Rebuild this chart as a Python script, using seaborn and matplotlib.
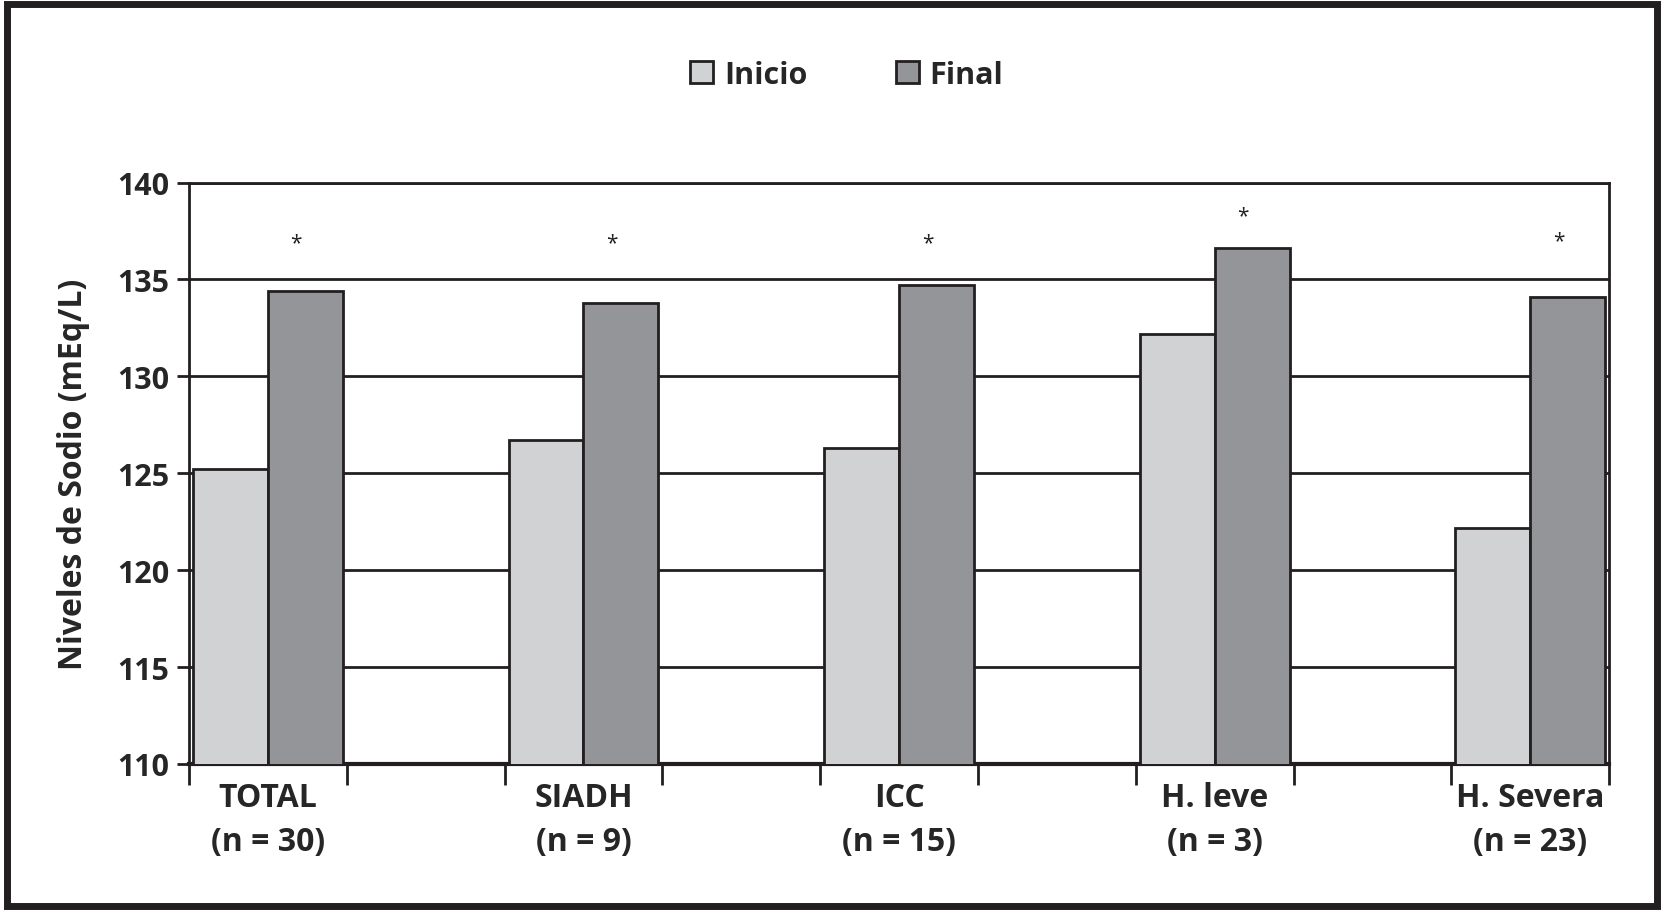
import matplotlib
matplotlib.use("Agg")
from matplotlib import pyplot as plt
from matplotlib.patches import Rectangle
import seaborn as sns
import pandas as pd

groups = ["TOTAL", "SIADH", "ICC", "H. leve", "H. Severa"]
n_labels = ["(n = 30)", "(n = 9)", "(n = 15)", "(n = 3)", "(n = 23)"]
inicio = [125.2, 126.7, 126.3, 132.2, 122.2]
final = [134.4, 133.8, 134.7, 136.6, 134.1]
star_y = [136.9, 136.9, 136.9, 138.3, 137.0]

df = pd.DataFrame({
    "grupo": groups * 2,
    "momento": ["Inicio"] * len(groups) + ["Final"] * len(groups),
    "sodio": inicio + final,
})

sns.set_style("white")
plt.rcParams["font.family"] = ["Open Sans", "DejaVu Sans"]
ink = "#231f20"

fig = plt.figure(figsize=(16.64, 9.12), dpi=100)
ax = fig.add_axes([0.1136, 0.1612, 0.8534, 0.6375])

sns.barplot(
    data=df, x="grupo", y="sodio", hue="momento", order=groups,
    palette={"Inicio": "#d1d2d4", "Final": "#939598"},
    width=0.475, gap=0, edgecolor=ink, linewidth=2,
    saturation=1, errorbar=None, zorder=3, ax=ax,
)

# asteriscos de significación sobre la barra "Final"
for i, y in enumerate(star_y):
    ax.text(i + 0.09, y, "*", ha="center", va="center", fontsize=15, color=ink)

ax.set_ylim(110, 140)
ax.set_xlim(-0.25, len(groups) - 0.75)
ax.set_yticks([110, 115, 120, 125, 130, 135, 140])
ax.yaxis.grid(True, color=ink, linewidth=2)
ax.set_axisbelow(True)
ax.tick_params(axis="y", left=True, length=9, width=2, color=ink, labelsize=22, pad=5)
for lab in ax.get_yticklabels():
    lab.set_fontweight("bold")

ax.set_xticks(range(len(groups)))
ax.set_xticklabels([f"{g}\n{n}" for g, n in zip(groups, n_labels)],
                   fontsize=23, fontweight="bold", linespacing=1.45)
ax.tick_params(axis="x", which="major", bottom=True, length=0, pad=12)
edges = [i + d for i in range(len(groups)) for d in (-0.25, 0.25)]
ax.set_xticks(edges, minor=True)
ax.tick_params(axis="x", which="minor", bottom=True, length=15, width=2,
               color=ink, direction="out")

for side in ["left", "right", "top"]:
    ax.spines[side].set_color(ink)
    ax.spines[side].set_linewidth(2)
ax.spines["bottom"].set_color(ink)
ax.spines["bottom"].set_linewidth(3)

ax.set_xlabel("")
ax.set_ylabel("Niveles de Sodio (mEq/L)", fontsize=23, fontweight="bold")
ax.yaxis.set_label_coords(-0.070, 0.5)

handles, labels = ax.get_legend_handles_labels()
ax.legend_.remove()
fig.legend(handles, labels, loc="center", bbox_to_anchor=(0.509, 0.917), ncol=2,
           frameon=False, handlelength=0.75, handleheight=0.75,
           handletextpad=0.35, columnspacing=2.9,
           prop={"size": 22, "weight": "bold"})

fig.patches.append(Rectangle((0.004, 0.005), 0.992, 0.99, transform=fig.transFigure,
                             fill=False, edgecolor=ink, linewidth=5))

fig.savefig("out.png", dpi=100)
